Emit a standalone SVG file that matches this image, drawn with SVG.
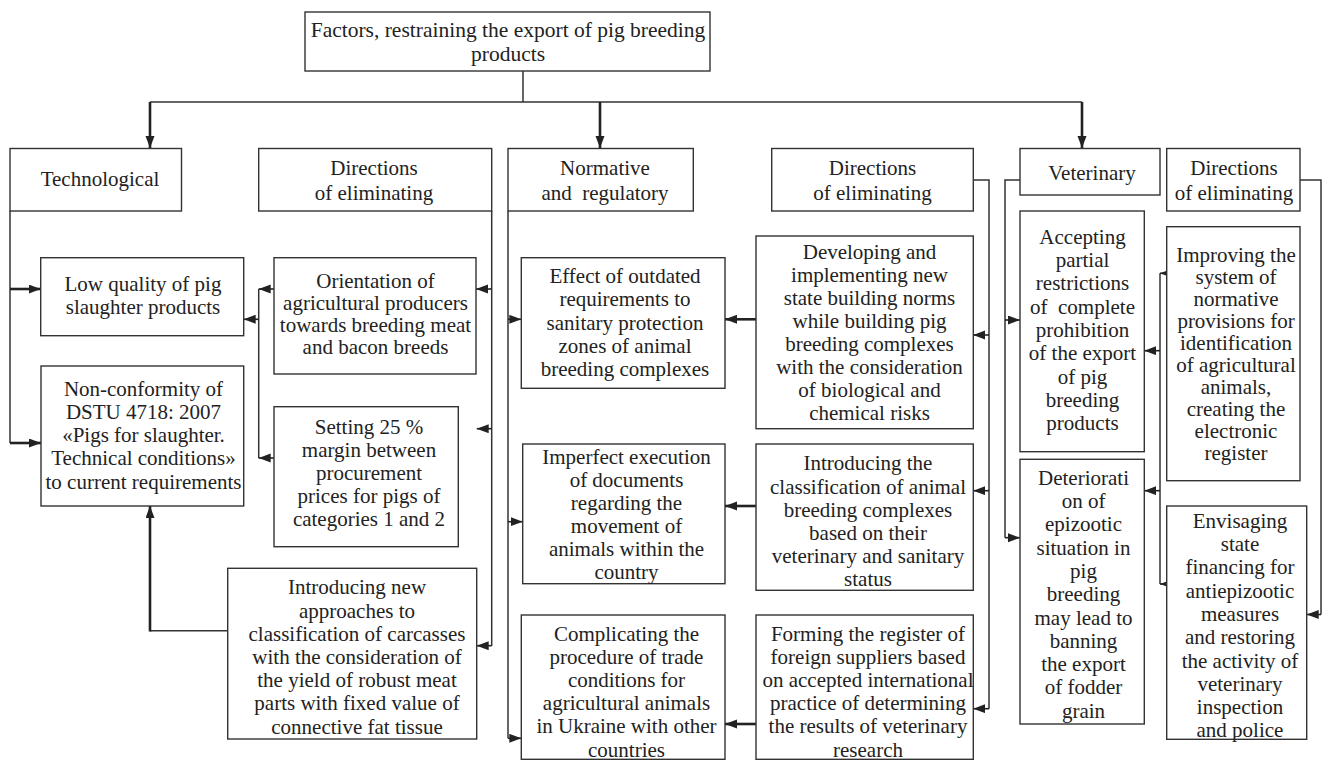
<svg xmlns="http://www.w3.org/2000/svg" width="1331" height="761" viewBox="0 0 1331 761">
<style>
.box{fill:#fff;stroke:#333;stroke-width:1.4}
.t{font-family:"Liberation Serif","Times New Roman",serif;font-size:21px;fill:#222;text-anchor:middle}
.tt{font-size:21.5px}
.c{fill:none;stroke:#333;stroke-width:1.5}
.a{fill:none;stroke:#222;stroke-width:1.6;marker-end:url(#ah)}
.k{fill:none;stroke:#222;stroke-width:2.6;marker-end:url(#ah)}
</style>
<defs>
<marker id="ah" markerUnits="userSpaceOnUse" markerWidth="13" markerHeight="10" refX="12" refY="4.5" orient="auto"><path d="M0,0 L12,4.5 L0,9 z" fill="#222"/></marker>
</defs>
<rect width="1331" height="761" fill="#fff"/>
<g id="connectors">
<path class="c" d="M523,71 V102 M150,102 H1082"/>
<path class="k" d="M150,102 V148"/>
<path class="k" d="M600,102 V148"/>
<path class="k" d="M1082,102 V148"/>
<path class="c" d="M10,211 V443"/>
<path class="k" d="M10,289 H40.7"/>
<path class="k" d="M10,443 H41"/>
<path class="c" d="M491.7,211 V645.7"/>
<path class="a" d="M491.7,289 H476"/>
<path class="a" d="M491.7,428.7 H476.7"/>
<path class="a" d="M491.7,645.7 H476.7"/>
<path class="c" d="M508,211 V738.3"/>
<path class="a" d="M508,319.3 H521.3"/>
<path class="a" d="M508,521.7 H522.7"/>
<path class="a" d="M508,738.3 H521.3"/>
<path class="c" d="M973.3,180 H989 V708.7"/>
<path class="a" d="M989,335 H973.3"/>
<path class="a" d="M989,490.7 H973.3"/>
<path class="a" d="M989,708.7 H973.3"/>
<path class="c" d="M1020,180 H1005 V537.7"/>
<path class="a" d="M1005,320 H1020"/>
<path class="a" d="M1005,537.7 H1020"/>
<path class="c" d="M1160,273.3 V584"/>
<path class="a" d="M1166.7,273.3 H1160"/>
<path class="a" d="M1160,350.7 H1144.3"/>
<path class="a" d="M1160,490.7 H1144.3"/>
<path class="a" d="M1166.7,584 H1160"/>
<path class="c" d="M1300,180 H1321 V614.5"/>
<path class="a" d="M1321,614.5 H1306.7"/>
<path class="c" d="M258.7,289 V458"/>
<path class="a" d="M274,289 H258.7"/>
<path class="a" d="M274,458 H258.7"/>
<path class="a" d="M258.7,319.3 H243.7"/>
<path class="k" d="M756,319.3 H725"/>
<path class="k" d="M756,506 H725"/>
<path class="k" d="M756,724 H725"/>
<path class="c" d="M227.7,630.7 H150"/>
<path class="k" d="M150,631.5 V506"/>
</g>
<g id="n-title"><rect class="box" x="305" y="12" width="405" height="59"/>
<text class="t tt"><tspan x="508" y="37">Factors, restraining the export of pig breeding</tspan><tspan x="508" y="61">products</tspan></text></g>
<g id="n-tech"><rect class="box" x="10" y="148.5" width="171.5" height="62.5"/>
<text class="t" x="100" y="185.5">Technological</text></g>
<g id="n-dir1"><rect class="box" x="258.7" y="148.5" width="233" height="62.5"/>
<text class="t"><tspan x="374" y="175">Directions</tspan><tspan x="374" y="199.5">of eliminating</tspan></text></g>
<g id="n-norm"><rect class="box" x="508" y="148.5" width="185.3" height="62.5"/>
<text class="t" xml:space="preserve"><tspan x="605" y="175">Normative</tspan><tspan x="605" y="199.5">and  regulatory</tspan></text></g>
<g id="n-dir2"><rect class="box" x="771.7" y="148.5" width="201.6" height="62.5"/>
<text class="t"><tspan x="872.5" y="175">Directions</tspan><tspan x="872.5" y="199.5">of eliminating</tspan></text></g>
<g id="n-vet"><rect class="box" x="1020" y="148.5" width="140" height="46.5"/>
<text class="t" x="1092" y="179.5">Veterinary</text></g>
<g id="n-dir3"><rect class="box" x="1166.7" y="148.5" width="133.3" height="62.5"/>
<text class="t"><tspan x="1234" y="175">Directions</tspan><tspan x="1234" y="199.5">of eliminating</tspan></text></g>
<g id="n-lowq"><rect class="box" x="40.7" y="257.7" width="203" height="78"/>
<text class="t"><tspan x="143" y="290.5">Low quality of pig</tspan><tspan x="143" y="313.8">slaughter products</tspan></text></g>
<g id="n-nonconf"><rect class="box" x="41" y="366" width="202.7" height="140"/>
<text class="t"><tspan x="143.5" y="395.5">Non-conformity of</tspan><tspan x="143.5" y="418.8">DSTU 4718: 2007</tspan><tspan x="143.5" y="442.1">«Pigs for slaughter.</tspan><tspan x="143.5" y="465.4">Technical conditions»</tspan><tspan x="143.5" y="488.7">to current requirements</tspan></text></g>
<g id="n-orient"><rect class="box" x="274" y="257.7" width="202" height="116.3"/>
<text class="t"><tspan x="375.5" y="287.5">Orientation of</tspan><tspan x="375.5" y="309.5">agricultural producers</tspan><tspan x="375.5" y="331.5">towards breeding meat</tspan><tspan x="375.5" y="353.5">and bacon breeds</tspan></text></g>
<g id="n-setting"><rect class="box" x="274" y="406.7" width="184.3" height="140"/>
<text class="t"><tspan x="369" y="433.7">Setting 25 %</tspan><tspan x="369" y="456.7">margin between</tspan><tspan x="369" y="479.7">procurement</tspan><tspan x="369" y="502.7">prices for pigs of</tspan><tspan x="369" y="525.7">categories 1 and 2</tspan></text></g>
<g id="n-newappr"><rect class="box" x="227.7" y="568.3" width="249" height="170.7"/>
<text class="t"><tspan x="357" y="594.3">Introducing new</tspan><tspan x="357" y="617.5">approaches to</tspan><tspan x="357" y="640.7">classification of carcasses</tspan><tspan x="357" y="663.9">with the consideration of</tspan><tspan x="357" y="687.1">the yield of robust meat</tspan><tspan x="357" y="710.3">parts with fixed value of</tspan><tspan x="357" y="733.5">connective fat tissue</tspan></text></g>
<g id="n-effect"><rect class="box" x="521.3" y="257.7" width="203.7" height="130.6"/>
<text class="t"><tspan x="625" y="283">Effect of outdated</tspan><tspan x="625" y="306.3">requirements to</tspan><tspan x="625" y="329.6">sanitary protection</tspan><tspan x="625" y="352.9">zones of animal</tspan><tspan x="625" y="376.2">breeding complexes</tspan></text></g>
<g id="n-imperfect"><rect class="box" x="522.7" y="444" width="202.3" height="139.7"/>
<text class="t"><tspan x="626.5" y="463.7">Imperfect execution</tspan><tspan x="626.5" y="486.7">of documents</tspan><tspan x="626.5" y="509.7">regarding the</tspan><tspan x="626.5" y="532.7">movement of</tspan><tspan x="626.5" y="555.7">animals within the</tspan><tspan x="626.5" y="578.7">country</tspan></text></g>
<g id="n-complic"><rect class="box" x="521.3" y="615" width="203.7" height="144.3"/>
<text class="t"><tspan x="626.5" y="641">Complicating the</tspan><tspan x="626.5" y="664.1">procedure of trade</tspan><tspan x="626.5" y="687.2">conditions for</tspan><tspan x="626.5" y="710.3">agricultural animals</tspan><tspan x="626.5" y="733.4">in Ukraine with other</tspan><tspan x="626.5" y="756.5">countries</tspan></text></g>
<g id="n-develop"><rect class="box" x="756" y="236" width="217.3" height="192.7"/>
<text class="t"><tspan x="869.5" y="258.7">Developing and</tspan><tspan x="869.5" y="281.8">implementing new</tspan><tspan x="869.5" y="304.9">state building norms</tspan><tspan x="869.5" y="328">while building pig</tspan><tspan x="869.5" y="351.1">breeding complexes</tspan><tspan x="869.5" y="374.2">with the consideration</tspan><tspan x="869.5" y="397.3">of biological and</tspan><tspan x="869.5" y="420.4">chemical risks</tspan></text></g>
<g id="n-classif"><rect class="box" x="756" y="444" width="217.3" height="146.3"/>
<text class="t"><tspan x="868" y="470.3">Introducing the</tspan><tspan x="868" y="493.5">classification of animal</tspan><tspan x="868" y="516.7">breeding complexes</tspan><tspan x="868" y="539.9">based on their</tspan><tspan x="868" y="563.1">veterinary and sanitary</tspan><tspan x="868" y="586.3">status</tspan></text></g>
<g id="n-forming"><rect class="box" x="756" y="615" width="217.3" height="144.3"/>
<text class="t"><tspan x="868" y="641">Forming the register of</tspan><tspan x="868" y="664.1">foreign suppliers based</tspan><tspan x="868" y="687.2">on accepted international</tspan><tspan x="868" y="710.3">practice of determining</tspan><tspan x="868" y="733.4">the results of veterinary</tspan><tspan x="868" y="756.5">research</tspan></text></g>
<g id="n-accept"><rect class="box" x="1020" y="211" width="124.3" height="240.7"/>
<text class="t" xml:space="preserve"><tspan x="1082.5" y="243.7">Accepting</tspan><tspan x="1082.5" y="267">partial</tspan><tspan x="1082.5" y="290.3">restrictions</tspan><tspan x="1082.5" y="313.6">of  complete</tspan><tspan x="1082.5" y="336.9">prohibition</tspan><tspan x="1082.5" y="360.2">of the export</tspan><tspan x="1082.5" y="383.5">of pig</tspan><tspan x="1082.5" y="406.8">breeding</tspan><tspan x="1082.5" y="430.1">products</tspan></text></g>
<g id="n-deter"><rect class="box" x="1020" y="459.3" width="124.3" height="264.7"/>
<text class="t"><tspan x="1083.5" y="484.7">Deteriorati</tspan><tspan x="1083.5" y="508">on of</tspan><tspan x="1083.5" y="531.3">epizootic</tspan><tspan x="1083.5" y="554.6">situation in</tspan><tspan x="1083.5" y="577.9">pig</tspan><tspan x="1083.5" y="601.2">breeding</tspan><tspan x="1083.5" y="624.5">may lead to</tspan><tspan x="1083.5" y="647.8">banning</tspan><tspan x="1083.5" y="671.1">the export</tspan><tspan x="1083.5" y="694.4">of fodder</tspan><tspan x="1083.5" y="717.7">grain</tspan></text></g>
<g id="n-improve"><rect class="box" x="1166.7" y="226.7" width="133.3" height="254"/>
<text class="t"><tspan x="1236" y="262">Improving the</tspan><tspan x="1236" y="284">system of</tspan><tspan x="1236" y="306">normative</tspan><tspan x="1236" y="328">provisions for</tspan><tspan x="1236" y="350">identification</tspan><tspan x="1236" y="372">of agricultural</tspan><tspan x="1236" y="394">animals,</tspan><tspan x="1236" y="416">creating the</tspan><tspan x="1236" y="438">electronic</tspan><tspan x="1236" y="460">register</tspan></text></g>
<g id="n-envis"><rect class="box" x="1166.7" y="506" width="140" height="233.3"/>
<text class="t"><tspan x="1240" y="527.7">Envisaging</tspan><tspan x="1240" y="551">state</tspan><tspan x="1240" y="574.3">financing for</tspan><tspan x="1240" y="597.6">antiepizootic</tspan><tspan x="1240" y="620.9">measures</tspan><tspan x="1240" y="644.2">and restoring</tspan><tspan x="1240" y="667.5">the activity of</tspan><tspan x="1240" y="690.8">veterinary</tspan><tspan x="1240" y="714.1">inspection</tspan><tspan x="1240" y="737.4">and police</tspan></text></g>
</svg>
